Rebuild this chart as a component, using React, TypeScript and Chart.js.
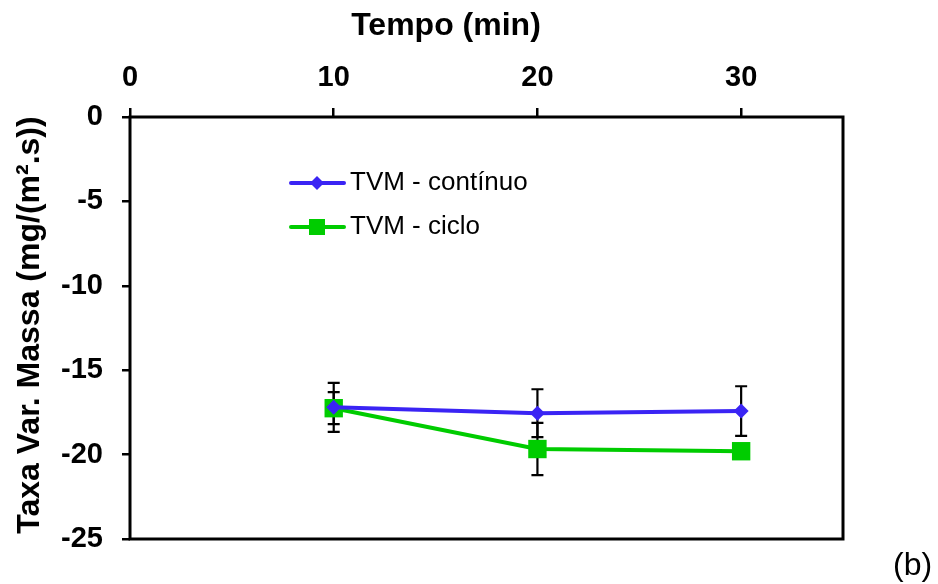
import React, { useEffect, useRef } from 'react';
import { Chart, registerables } from 'chart.js';

Chart.register(...registerables);

// ---- data ----
const timeMin = [10, 20, 30];
const continuo = [-17.2, -17.55, -17.42];
const continuoErr = [1.45, 1.42, 1.47];
const ciclo = [-17.25, -19.67, -19.8];
const cicloErr = [0.95, 1.55, 0.4];
const xTicks = [0, 10, 20, 30];
const yTicks = [-25, -20, -15, -10, -5, 0];
const seriesNames = ['TVM - contínuo', 'TVM - ciclo'];
const xTitle = 'Tempo (min)';
const yTitle = 'Taxa Var. Massa (mg/(m².s))';
const panelLabel = '(b)';

const BLUE = '#3a24f4';
const GREEN = '#00cc00';
const FONT = '"Liberation Sans", Arial, sans-serif';

const overlay = {
  id: 'overlay',
  beforeDatasetsDraw(chart: any) {
    const ctx = chart.ctx;
    const xs = chart.scales.x;
    const ys = chart.scales.y;
    const sets = [
      { v: continuo, e: continuoErr },
      { v: ciclo, e: cicloErr },
    ];
    ctx.save();
    ctx.strokeStyle = '#000';
    ctx.lineWidth = 2.2;
    sets.forEach((s) => {
      timeMin.forEach((t, i) => {
        const x = xs.getPixelForValue(t);
        const y1 = ys.getPixelForValue(s.v[i] + s.e[i]);
        const y2 = ys.getPixelForValue(s.v[i] - s.e[i]);
        ctx.beginPath();
        ctx.moveTo(x, y1);
        ctx.lineTo(x, y2);
        ctx.moveTo(x - 6, y1);
        ctx.lineTo(x + 6, y1);
        ctx.moveTo(x - 6, y2);
        ctx.lineTo(x + 6, y2);
        ctx.stroke();
      });
    });
    ctx.restore();
  },
  afterDraw(chart: any) {
    const ctx = chart.ctx;
    const a = chart.chartArea;
    ctx.save();
    // box
    ctx.strokeStyle = '#000';
    ctx.lineWidth = 3;
    ctx.strokeRect(a.left, a.top, a.right - a.left, a.bottom - a.top);

    // titles
    ctx.fillStyle = '#000';
    ctx.font = `bold 32px ${FONT}`;
    ctx.textAlign = 'center';
    ctx.textBaseline = 'alphabetic';
    ctx.fillText(xTitle, 446, 35);
    ctx.save();
    ctx.translate(39, 325);
    ctx.rotate(-Math.PI / 2);
    ctx.fillText(yTitle, 0, 0);
    ctx.restore();

    // legend
    const items = [
      { name: seriesNames[0], color: BLUE, y: 183, style: 'diamond' },
      { name: seriesNames[1], color: GREEN, y: 227, style: 'square' },
    ];
    items.forEach((it) => {
      ctx.strokeStyle = it.color;
      ctx.lineWidth = 4;
      ctx.lineCap = 'round';
      ctx.beginPath();
      ctx.moveTo(291, it.y);
      ctx.lineTo(344, it.y);
      ctx.stroke();
      ctx.fillStyle = it.color;
      const cx = 317;
      if (it.style === 'diamond') {
        ctx.beginPath();
        ctx.moveTo(cx, it.y - 7);
        ctx.lineTo(cx + 7, it.y);
        ctx.lineTo(cx, it.y + 7);
        ctx.lineTo(cx - 7, it.y);
        ctx.closePath();
        ctx.fill();
      } else {
        ctx.fillRect(cx - 8, it.y - 8, 16, 16);
      }
      ctx.fillStyle = '#000';
      ctx.font = `26px ${FONT}`;
      ctx.textAlign = 'left';
      ctx.textBaseline = 'alphabetic';
      ctx.fillText(it.name, 350, it.y + 7);
    });

    // panel label
    ctx.font = `32px ${FONT}`;
    ctx.textAlign = 'left';
    ctx.fillText(panelLabel, 893, 575);
    ctx.restore();
  },
};

export default function App() {
  const ref = useRef<HTMLCanvasElement | null>(null);
  useEffect(() => {
    document.body.style.margin = '0';
    const canvas = ref.current;
    if (!canvas) return;
    const chart = new Chart(canvas, {
      type: 'line',
      data: {
        datasets: [
          {
            label: seriesNames[0],
            data: timeMin.map((t, i) => ({ x: t, y: continuo[i] })),
            borderColor: BLUE,
            backgroundColor: BLUE,
            borderWidth: 4,
            pointStyle: 'rectRot',
            pointRadius: 7.5,
            pointBorderWidth: 0,
            tension: 0,
          },
          {
            label: seriesNames[1],
            data: timeMin.map((t, i) => ({ x: t, y: ciclo[i] })),
            borderColor: GREEN,
            backgroundColor: GREEN,
            borderWidth: 4,
            pointStyle: 'rect',
            pointRadius: 13,
            pointBorderWidth: 0,
            tension: 0,
          },
        ],
      },
      options: {
        animation: false,
        responsive: false,
        maintainAspectRatio: false,
        layout: { padding: { left: 0, top: 0, right: 95, bottom: 45 } },
        plugins: { legend: { display: false }, tooltip: { enabled: false } },
        scales: {
          x: {
            type: 'linear',
            position: 'top',
            min: 0,
            max: 35,
            afterBuildTicks: (s: any) => {
              s.ticks = xTicks.map((v) => ({ value: v }));
            },
            afterFit: (s: any) => {
              s.height = 117;
            },
            grid: {
              drawOnChartArea: false,
              drawTicks: true,
              tickLength: 9,
              color: '#000',
              lineWidth: 2.5,
            },
            border: { display: false },
            ticks: {
              color: '#000',
              padding: 13,
              maxRotation: 0,
              font: { family: FONT, size: 29, weight: 'bold' },
            },
          },
          y: {
            type: 'linear',
            min: -25,
            max: 0,
            afterBuildTicks: (s: any) => {
              s.ticks = yTicks.map((v) => ({ value: v }));
            },
            afterFit: (s: any) => {
              s.width = 130;
            },
            grid: {
              drawOnChartArea: false,
              drawTicks: true,
              tickLength: 8,
              color: '#000',
              lineWidth: 2.5,
            },
            border: { display: false },
            ticks: {
              color: '#000',
              padding: 19,
              font: { family: FONT, size: 29, weight: 'bold' },
            },
          },
        },
      },
      plugins: [overlay],
    } as any);
    return () => chart.destroy();
  }, []);
  return (
    <div style={{ width: 938, height: 584, background: '#fff' }}>
      <canvas ref={ref} width={938} height={584} style={{ display: 'block' }} />
    </div>
  );
}
